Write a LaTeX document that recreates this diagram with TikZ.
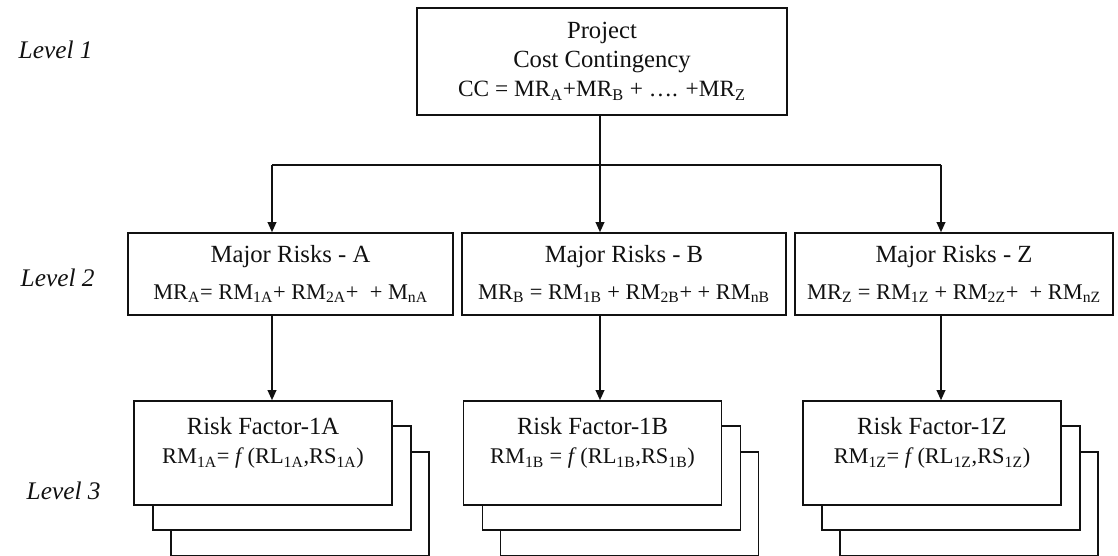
\documentclass[tikz,border=0pt]{standalone}
\usepackage{fontspec}
\setmainfont{Liberation Serif}
\usetikzlibrary{arrows.meta,positioning}
\definecolor{riskInk}{HTML}{111111}
\newcommand{\fml}{\fontsize{16.8}{27.5}\selectfont}
\newcommand{\fmltop}{\fontsize{17.5}{21.75}\selectfont}
\tikzset{
  every picture/.style={font=\fontsize{18.5}{27.5}\selectfont, text=riskInk},
  risk box/.style={draw=riskInk, line width=1.2pt, fill=white, align=center,
    inner sep=0pt},
  top box/.style={risk box, font=\fontsize{18.5}{21.75}\selectfont},
  factor box/.style={risk box, font=\fontsize{18.5}{21.75}\selectfont,
    minimum width=193.5pt, minimum height=78pt},
  back box/.style={draw=riskInk, line width=1.2pt, fill=white, inner sep=0pt,
    minimum width=193.5pt, minimum height=78pt},
  risk arrow/.style={-{Triangle[length=7.5pt,width=6.5pt]},
    draw=riskInk, line width=1.1pt},
  risk line/.style={draw=riskInk, line width=1.1pt},
  level label/.style={font=\fontsize{19}{22}\selectfont\itshape, anchor=west}
}
\begin{document}
\begin{tikzpicture}[x=0.75pt,y=-0.75pt]
  \useasboundingbox (0,0) rectangle (1118,556);

  % level 1
  \node[top box, minimum width=277.5pt, minimum height=80.25pt] (cc) at (602,61.5)
    {Project\\Cost Contingency\\\fmltop CC = MR\textsubscript{A}+MR\textsubscript{B} + …. +MR\textsubscript{Z}};

  % level 2
  \node[risk box, minimum width=243.75pt, minimum height=61.5pt] (mrA) at (290.5,274)
    {Major Risks - A\\\fml MR\textsubscript{A}= RM\textsubscript{1A}+ RM\textsubscript{2A}+ \ + M\textsubscript{nA}};
  \node[risk box, minimum width=243pt, minimum height=61.5pt] (mrB) at (624,274)
    {Major Risks - B\\\fml MR\textsubscript{B} = RM\textsubscript{1B} + RM\textsubscript{2B}+ + RM\textsubscript{nB}};
  \node[risk box, minimum width=238.5pt, minimum height=61.5pt] (mrZ) at (954,274)
    {Major Risks - Z\\\fml MR\textsubscript{Z} = RM\textsubscript{1Z} + RM\textsubscript{2Z}+ \ + RM\textsubscript{nZ}};

  % level 3, stacked risk factors
  \foreach \cx/\lab in {263/A,592.5/B,932/Z}{
    \node[back box] (rf\lab3) at (\cx+37,453+51) {};
    \node[back box] (rf\lab2) at (\cx+19,453+25) {};
  }
  \node[factor box] (rfA) at (263,453)
    {Risk Factor-1A\\\fml RM\textsubscript{1A}= \textit{f}\,(RL\textsubscript{1A},RS\textsubscript{1A})\\[-10pt]\strut};
  \node[factor box] (rfB) at (592.5,453)
    {Risk Factor-1B\\\fml RM\textsubscript{1B} = \textit{f}\,(RL\textsubscript{1B},RS\textsubscript{1B})\\[-10pt]\strut};
  \node[factor box] (rfZ) at (932,453)
    {Risk Factor-1Z\\\fml RM\textsubscript{1Z}= \textit{f}\,(RL\textsubscript{1Z},RS\textsubscript{1Z})\\[-10pt]\strut};

  % connectors
  \coordinate (colA) at (272,165);
  \coordinate (colB) at (600,165);
  \coordinate (colZ) at (941,165);
  \draw[risk line] (colA) -- (colZ);
  \draw[risk arrow] (colB |- cc.south) -- (colB |- mrB.north);
  \draw[risk arrow] (colA) -- (colA |- mrA.north);
  \draw[risk arrow] (colZ) -- (colZ |- mrZ.north);
  \draw[risk arrow] (colA |- mrA.south) -- (colA |- rfA.north);
  \draw[risk arrow] (colB |- mrB.south) -- (colB |- rfB.north);
  \draw[risk arrow] (colZ |- mrZ.south) -- (colZ |- rfZ.north);

  % level labels
  \node[level label] (lev1) at (14,50) {Level 1};
  \node[level label] (lev2) at (16,278) {Level 2};
  \node[level label] (lev3) at (22,491) {Level 3};
\end{tikzpicture}
\end{document}
